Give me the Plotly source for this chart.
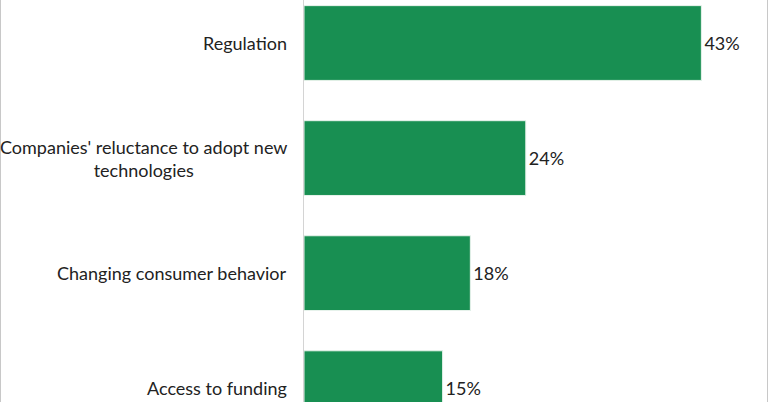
import plotly.graph_objects as go

categories = ["Regulation", "Companies' reluctance to adopt new<br>technologies",
              "Changing consumer behavior", "Access to funding"]
values = [43, 24, 18, 15]
labels = ["43%", "24%", "18%", "15%"]

W, H = 768, 402
L, R = 304, 1
PW = W - L - R

fig = go.Figure(go.Bar(
    y=categories, x=values, orientation="h",
    text=labels, textposition="outside", cliponaxis=False,
    textfont=dict(family="Lato", size=18, color="#222222"),
    marker=dict(color="#188F52", line=dict(color="#e8f3ec", width=1)),
))

annotations = [dict(xref="paper", yref="y", x=0, y=c, text=c, xanchor="right",
                    yanchor="middle", align="center", xshift=-15, showarrow=False,
                    font=dict(family="Lato", size=18, color="#222222"))
               for c in categories]

fig.update_layout(
    width=W, height=H, margin=dict(l=L, r=R, t=0, b=0),
    paper_bgcolor="white", plot_bgcolor="white",
    bargap=0.35, showlegend=False, annotations=annotations,
    xaxis=dict(range=[0, 50.1], visible=False, fixedrange=True),
    yaxis=dict(categoryorder="array", categoryarray=categories,
               range=[3.12, -0.374], showticklabels=False, ticks="",
               showline=True, linecolor="#d4d4d4", linewidth=1, showgrid=False,
               zeroline=False),
    shapes=[
        dict(type="line", xref="paper", yref="paper", x0=-L / PW + 0.5 / PW, x1=-L / PW + 0.5 / PW,
             y0=0, y1=1, line=dict(color="#c8c8c8", width=1)),
        dict(type="line", xref="paper", yref="paper", x0=1 + (R - 0.5) / PW, x1=1 + (R - 0.5) / PW,
             y0=0, y1=1, line=dict(color="#c8c8c8", width=1)),
    ],
)

fig.write_html("out.html")
